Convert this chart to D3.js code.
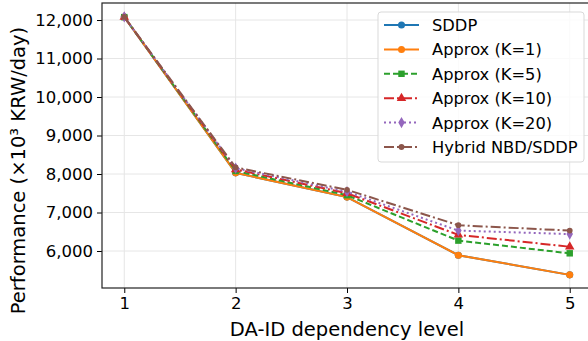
<!DOCTYPE html>
<html>
<head>
<meta charset="utf-8">
<script src="https://cdn.jsdelivr.net/npm/d3@7"></script>
<style>
  body { margin: 0; background: #fff; }
  svg { font-family: "DejaVu Sans", sans-serif; }
</style>
</head>
<body>
<script>
const w = 588
const h = 341

// data
const levels = [1, 2, 3, 4, 5]
const sddp = [12080, 8030, 7400, 5890, 5380]
const approx1 = [12080, 8030, 7400, 5890, 5380]
const approx5 = [12075, 8080, 7450, 6270, 5940]
const approx10 = [12075, 8120, 7500, 6420, 6110]
const approx20 = [12080, 8150, 7540, 6530, 6440]
const hybrid = [12080, 8170, 7590, 6670, 6530]
const yTicks = [6000, 7000, 8000, 9000, 10000, 11000, 12000]

const series = [
  { name: 'SDDP', values: sddp, color: '#1f77b4', dash: null, marker: 'circle', size: 30 },
  { name: 'Approx (K=1)', values: approx1, color: '#ff7f0e', dash: null, marker: 'circle', size: 30 },
  { name: 'Approx (K=5)', values: approx5, color: '#2ca02c', dash: '6,3', marker: 'square', size: 32 },
  { name: 'Approx (K=10)', values: approx10, color: '#d62728', dash: '10,3,2,3', marker: 'triangle', size: 30 },
  { name: 'Approx (K=20)', values: approx20, color: '#9467bd', dash: '2,3', marker: 'diamond', size: 28 },
  { name: 'Hybrid NBD/SDDP', values: hybrid, color: '#8c564b', dash: '10,3,2,3', marker: 'circle', size: 20 }
]

const margin = { left: 102, top: 3, right: 592, bottom: 288 }

const svg = d3.select('body')
  .append('svg')
  .attr('width', w)
  .attr('height', h)

const xScale = d3.scaleLinear()
  .domain([0.8, 5.2])
  .range([margin.left, margin.right])

const yScale = d3.scaleLinear()
  .domain([5039, 12442])
  .range([margin.bottom, margin.top])

// grid
svg.append('g')
  .selectAll('line')
  .data(levels)
  .enter()
  .append('line')
  .attr('x1', d => xScale(d))
  .attr('x2', d => xScale(d))
  .attr('y1', margin.top)
  .attr('y2', margin.bottom)
  .attr('stroke', '#e6e6e6')
  .attr('stroke-width', 1)

svg.append('g')
  .selectAll('line')
  .data(yTicks)
  .enter()
  .append('line')
  .attr('x1', margin.left)
  .attr('x2', margin.right)
  .attr('y1', d => yScale(d))
  .attr('y2', d => yScale(d))
  .attr('stroke', '#e6e6e6')
  .attr('stroke-width', 1)

const symbolType = {
  circle: d3.symbolCircle,
  square: d3.symbolSquare,
  triangle: d3.symbolTriangle,
  diamond: d3.symbolDiamond
}

const line = d3.line()
  .x((d, i) => xScale(levels[i]))
  .y(d => yScale(d))

series.forEach(s => {
  svg.append('path')
    .attr('d', line(s.values))
    .attr('fill', 'none')
    .attr('stroke', s.color)
    .attr('stroke-width', 2)
    .attr('stroke-dasharray', s.dash)

  svg.append('g')
    .selectAll('path')
    .data(s.values)
    .enter()
    .append('path')
    .attr('transform', (d, i) => `translate(${xScale(levels[i])},${yScale(d)})`)
    .attr('d', d3.symbol().type(symbolType[s.marker]).size(s.size * 1.3))
    .attr('fill', s.color)
})

// axes
const xAxis = d3.axisBottom(xScale)
  .tickValues(levels)
  .tickFormat(d3.format('d'))
  .tickSize(5)
  .tickPadding(4)

const yAxis = d3.axisLeft(yScale)
  .tickValues(yTicks)
  .tickFormat(d3.format(','))
  .tickSize(5)
  .tickPadding(4)

const gx = svg.append('g')
  .attr('transform', `translate(0,${margin.bottom})`)
  .call(xAxis)

const gy = svg.append('g')
  .attr('transform', `translate(${margin.left},0)`)
  .call(yAxis)

;[gx, gy].forEach(g => {
  g.selectAll('text')
    .attr('font-family', '"DejaVu Sans", sans-serif')
    .attr('font-size', '16.5px')
    .attr('fill', '#000')
  g.selectAll('line').attr('stroke', '#000').attr('stroke-width', 1)
  g.select('.domain').remove()
})

// frame
svg.append('rect')
  .attr('x', margin.left)
  .attr('y', margin.top)
  .attr('width', margin.right - margin.left)
  .attr('height', margin.bottom - margin.top)
  .attr('fill', 'none')
  .attr('stroke', '#222')
  .attr('stroke-width', 1.2)

// axis labels
svg.append('text')
  .attr('x', xScale(3))
  .attr('y', 336)
  .attr('text-anchor', 'middle')
  .attr('font-size', '19.5px')
  .text('DA-ID dependency level')

svg.append('text')
  .attr('transform', `translate(25,${(margin.top + margin.bottom) / 2 + 25}) rotate(-90)`)
  .attr('text-anchor', 'middle')
  .attr('font-size', '19.5px')
  .text('Performance (×10³ KRW/day)')

// legend
const legend = svg.append('g')
  .attr('transform', 'translate(378,12)')

legend.append('rect')
  .attr('width', 206)
  .attr('height', 150)
  .attr('rx', 3)
  .attr('fill', 'rgba(255,255,255,0.8)')
  .attr('stroke', '#d9d9d9')

series.forEach((s, i) => {
  const y = 13 + i * 24.4
  legend.append('line')
    .attr('x1', 6)
    .attr('x2', 41)
    .attr('y1', y)
    .attr('y2', y)
    .attr('stroke', s.color)
    .attr('stroke-width', 2)
    .attr('stroke-dasharray', s.dash)
  legend.append('path')
    .attr('transform', `translate(23.5,${y})`)
    .attr('d', d3.symbol().type(symbolType[s.marker]).size(s.size * 1.3))
    .attr('fill', s.color)
  legend.append('text')
    .attr('x', 54)
    .attr('y', y + 6)
    .attr('font-size', '16.3px')
    .text(s.name)
})
</script>
</body>
</html>
